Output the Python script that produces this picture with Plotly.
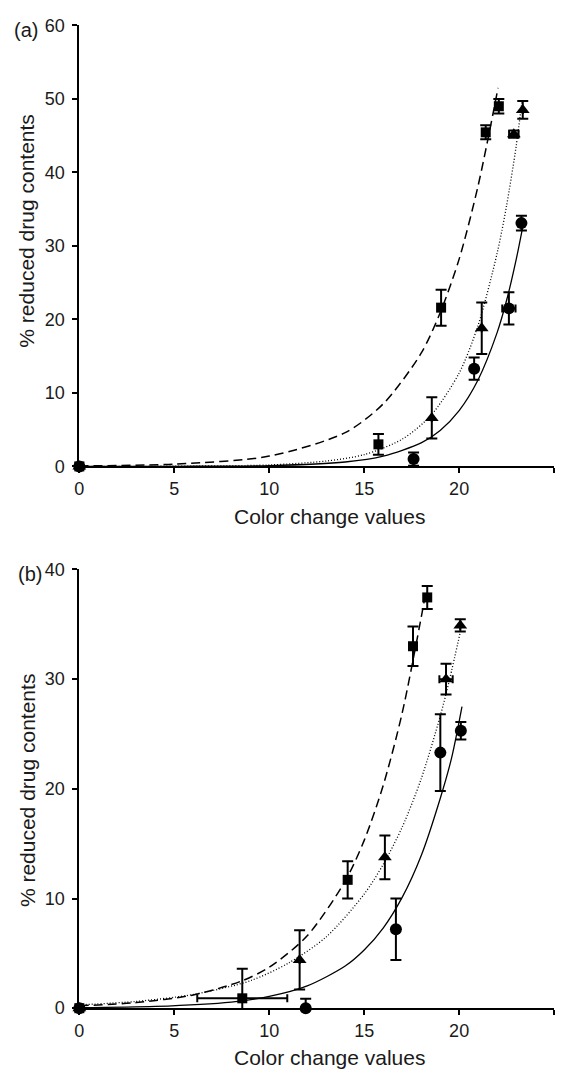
import plotly.graph_objects as go

W, H = 564, 1081

# ---------------- Panel (a) ----------------
a_sq_x = [0, 15.75, 19.05, 21.4, 22.09]
a_sq_y = [0, 3.0, 21.6, 45.45, 49.0]
a_sq_err = [0, 1.4, 2.45, 0.95, 1.0]

a_tri_x = [0, 18.56, 21.19, 22.88, 23.35]
a_tri_y = [0, 6.6, 18.8, 45.2, 48.5]
a_tri_err = [0, 2.8, 3.5, 0.5, 1.2]
a_tri_xerr = [0, 0, 0, 0.25, 0]

a_cir_x = [0, 17.6, 20.79, 22.62, 23.28]
a_cir_y = [0, 1.0, 13.3, 21.5, 33.1]
a_cir_err = [0, 0.9, 1.5, 2.2, 1.0]
a_cir_xerr = [0, 0, 0, 0.35, 0]

# fitted curves, panel (a)
a_dash_x = [0, 5, 10, 14, 16, 18, 19, 20, 21, 22.05]
a_dash_y = [0.07, 0.31, 1.4, 4.6, 8.5, 15.4, 20.9, 28.2, 38.2, 51.5]
a_dot_x = [0, 5, 10, 13, 15, 17, 18.5, 20, 21, 22, 22.5, 23, 23.3]
a_dot_y = [0.0, 0.03, 0.2, 0.73, 1.6, 3.7, 6.9, 12.7, 19.2, 29.0, 35.5, 43.5, 49.5]
a_sol_x = [0, 5, 10, 14, 16, 18, 19, 20, 21, 22, 22.5, 23, 23.35]
a_sol_y = [0.0, 0.01, 0.1, 0.6, 1.4, 3.2, 4.9, 7.6, 11.8, 18.2, 22.6, 28.1, 32.6]

# ---------------- Panel (b) ----------------
b_sq_x = [0, 8.58, 14.13, 17.57, 18.32]
b_sq_y = [0, 0.9, 11.7, 33.0, 37.45]
b_sq_err_up = [0, 2.7, 1.7, 1.8, 1.05]
b_sq_err_dn = [0, 1.0, 1.7, 1.8, 1.05]
b_sq_xerr = [0, 2.37, 0, 0, 0]

b_tri_x = [0, 11.6, 16.09, 19.31, 20.06]
b_tri_y = [0, 4.4, 13.75, 30.0, 34.9]
b_tri_err = [0, 2.7, 2.0, 1.4, 0.55]
b_tri_xerr = [0, 0, 0, 0.35, 0]

b_cir_x = [0, 11.92, 16.67, 19.01, 20.09]
b_cir_y = [0, 0.0, 7.2, 23.3, 25.3]
b_cir_err_up = [0, 0.85, 2.8, 3.5, 0.8]
b_cir_err_dn = [0, 0.0, 2.8, 3.5, 0.8]

# fitted curves, panel (b)
b_dash_x = [0, 3, 6, 8.5, 10, 12, 14, 15, 16, 17, 18, 18.25]
b_dash_y = [0.22, 0.51, 1.21, 2.45, 3.73, 6.6, 11.6, 15.3, 20.3, 26.9, 35.6, 38.0]
b_dot_x = [0, 3, 6, 9, 11, 13, 15, 16, 17, 18, 19, 19.5, 20.1]
b_dot_y = [0.3, 0.62, 1.25, 2.5, 4.1, 6.5, 10.4, 13.1, 16.5, 20.9, 26.6, 30.0, 34.6]
b_sol_x = [0, 4, 8, 10, 12, 14, 15, 16, 17, 18, 19, 19.6, 20.15]
b_sol_y = [0.04, 0.16, 0.56, 1.07, 2.03, 3.84, 5.3, 7.3, 10.1, 13.9, 19.1, 22.8, 27.5]

x_ticks = [0, 5, 10, 15, 20, 25]
a_y_ticks = [0, 10, 20, 30, 40, 50, 60]
b_y_ticks = [0, 10, 20, 30, 40]

fig = go.Figure()


def curve(x, y, dash, width, xa, ya):
    fig.add_trace(go.Scatter(
        x=x, y=y, mode="lines", xaxis=xa, yaxis=ya,
        line=dict(color="black", width=width, dash=dash, shape="spline", smoothing=0.8),
        hoverinfo="skip"))


def points(x, y, symbol, size, xa, ya, eup, edn=None, ex=None):
    ey = dict(type="data", array=eup, visible=True, color="black", thickness=2, width=5.5)
    if edn is not None:
        ey["symmetric"] = False
        ey["arrayminus"] = edn
    kw = {}
    if ex is not None:
        kw["error_x"] = dict(type="data", array=ex, visible=True, color="black", thickness=2, width=4)
    fig.add_trace(go.Scatter(
        x=x, y=y, mode="markers", xaxis=xa, yaxis=ya, cliponaxis=False,
        marker=dict(symbol=symbol, size=size, color="black"),
        error_y=ey, **kw))


# panel (a)
curve(a_dash_x, a_dash_y, "9px,5px", 1.5, "x", "y")
curve(a_dot_x, a_dot_y, "1px,2px", 1.3, "x", "y")
curve(a_sol_x, a_sol_y, "solid", 1.3, "x", "y")
points(a_sq_x, a_sq_y, "square", 10, "x", "y", a_sq_err)
points(a_tri_x, a_tri_y, "triangle-up", 12, "x", "y", a_tri_err, ex=a_tri_xerr)
points(a_cir_x, a_cir_y, "circle", 12, "x", "y", a_cir_err, ex=a_cir_xerr)

# panel (b)
curve(b_dash_x, b_dash_y, "9px,5px", 1.5, "x2", "y2")
curve(b_dot_x, b_dot_y, "1px,2px", 1.3, "x2", "y2")
curve(b_sol_x, b_sol_y, "solid", 1.3, "x2", "y2")
points(b_sq_x, b_sq_y, "square", 10, "x2", "y2", b_sq_err_up, b_sq_err_dn, ex=b_sq_xerr)
points(b_tri_x, b_tri_y, "triangle-up", 12, "x2", "y2", b_tri_err, ex=b_tri_xerr)
points(b_cir_x, b_cir_y, "circle", 12, "x2", "y2", b_cir_err_up, b_cir_err_dn)

axis_style = dict(
    showline=True, linecolor="black", linewidth=2, mirror=False,
    ticks="outside", ticklen=5, tickwidth=1.5, tickcolor="black",
    showgrid=False, zeroline=False, tickfont=dict(size=18, color="#1a1a1a"),
    fixedrange=True,
)

x_dom = [75 / W, 554 / W]
fig.update_layout(
    width=W, height=H,
    margin=dict(l=0, r=0, t=0, b=0),
    paper_bgcolor="white", plot_bgcolor="white",
    showlegend=False,
    font=dict(family="Liberation Sans, Arial, sans-serif", color="#1a1a1a"),
    xaxis=dict(domain=x_dom, range=[0, 25], tickvals=x_ticks, anchor="y", **axis_style),
    yaxis=dict(domain=[1 - 465 / H, 1 - 15.7 / H], range=[0, 60], tickvals=a_y_ticks,
               anchor="x", ticklabelstandoff=4, **axis_style),
    xaxis2=dict(domain=x_dom, range=[0, 25], tickvals=x_ticks, anchor="y2", **axis_style),
    yaxis2=dict(domain=[1 - 1017 / H, 1 - 570 / H], range=[0, 40], tickvals=b_y_ticks,
                anchor="x2", ticklabelstandoff=4, **axis_style),
)


def label(text, px, py, size, angle=0, xanchor="center"):
    fig.add_annotation(text=text, x=px / W, y=1 - py / H, xref="paper", yref="paper",
                       showarrow=False, textangle=angle, xanchor=xanchor, yanchor="middle",
                       font=dict(size=size, color="#1a1a1a"))


label("(a)", 7, 20, 20, xanchor="left")
label("(b)", 11, 575, 20, xanchor="left")
label("Color change values", 327, 516, 21)
label("Color change values", 327, 1067, 21)
label("% reduced drug contents", 22, 225, 21, angle=-90)
label("% reduced drug contents", 22, 795, 21, angle=-90)

# page without body margin so the figure fills the window exactly
fig.write_html("out.html", post_script="document.body.style.margin='0';")
